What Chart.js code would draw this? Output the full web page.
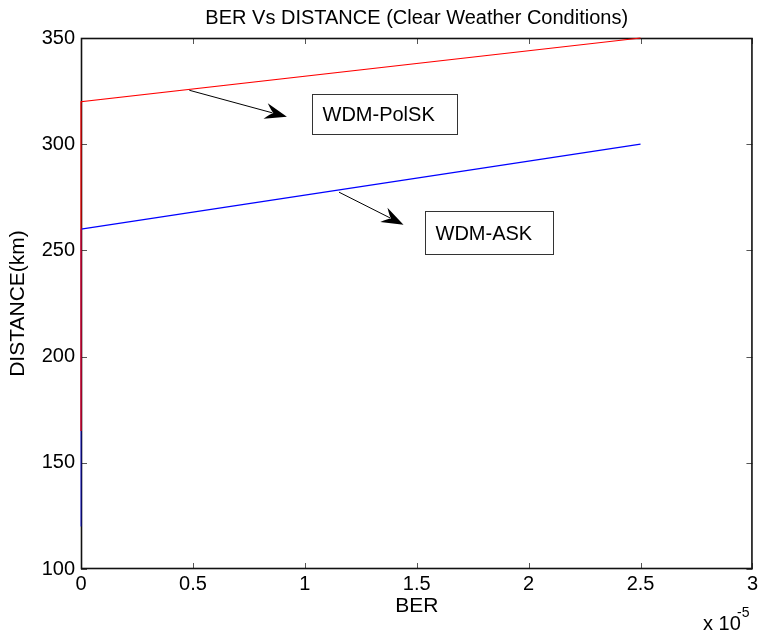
<!DOCTYPE html>
<html>
<head>
<meta charset="utf-8">
<title>BER Vs DISTANCE</title>
<script src="https://cdn.jsdelivr.net/npm/chart.js@4.4.0/dist/chart.umd.min.js"></script>
<style>
  html, body { margin: 0; padding: 0; background: #fff; }
  #wrap { width: 761px; height: 631px; }
</style>
</head>
<body>
<div id="wrap"><canvas id="myChart" width="761" height="631"></canvas></div>
<script>
// data
const polskBer = [0, 0, 2.5e-5];
const polskDist = [165, 320, 350];
const askBer = [0, 0, 2.5e-5];
const askDist = [120, 260, 300];

const xTicks = [0, 0.5, 1, 1.5, 2, 2.5, 3]; // x 10^-5
const yTicks = [100, 150, 200, 250, 300, 350];

// text arrows, in data units (ber, km)
const labelNames = ['WDM-PolSK', 'WDM-ASK'];
const arrowFrom = [[0.484e-5, 325.4], [1.153e-5, 277.4]];
const arrowTo = [[0.920e-5, 312.9], [1.441e-5, 262.1]];
const boxFrom = [[1.030e-5, 323.6], [1.537e-5, 268.6]];
const boxTo = [[1.682e-5, 304.6], [2.108e-5, 248.4]];

const FONT = "'Liberation Sans', Arial, Helvetica, sans-serif";

function toPoints(xs, ys) {
  return xs.map((x, i) => ({ x: x, y: ys[i] }));
}

function drawArrowHead(ctx, x1, y1, x2, y2) {
  const ang = Math.atan2(y2 - y1, x2 - x1);
  const len = 22, half = 8, notch = 14;
  ctx.save();
  ctx.translate(x2, y2);
  ctx.rotate(ang);
  ctx.beginPath();
  ctx.moveTo(0, 0);
  ctx.lineTo(-len, -half);
  ctx.quadraticCurveTo(-len * 0.75, -half * 0.2, -notch, 0);
  ctx.quadraticCurveTo(-len * 0.75, half * 0.2, -len, half);
  ctx.closePath();
  ctx.fillStyle = '#000';
  ctx.fill();
  ctx.restore();
}

const matlabLook = {
  id: 'matlabLook',
  beforeDatasetsDraw(chart) {
    const ctx = chart.ctx;
    const a = chart.chartArea;
    const xs = chart.scales.x, ys = chart.scales.y;
    ctx.save();
    // inward ticks on all four sides
    ctx.strokeStyle = '#555';
    ctx.lineWidth = 1;
    ctx.beginPath();
    xTicks.forEach(t => {
      const px = Math.round(xs.getPixelForValue(t * 1e-5)) + 0.5;
      ctx.moveTo(px, a.bottom); ctx.lineTo(px, a.bottom - 6);
      ctx.moveTo(px, a.top); ctx.lineTo(px, a.top + 6);
    });
    yTicks.forEach(t => {
      const py = Math.round(ys.getPixelForValue(t)) + 0.5;
      ctx.moveTo(a.left, py); ctx.lineTo(a.left + 6, py);
      ctx.moveTo(a.right, py); ctx.lineTo(a.right - 6, py);
    });
    ctx.stroke();

    // box
    ctx.strokeStyle = '#111';
    ctx.lineWidth = 1.6;
    ctx.strokeRect(a.left + 0.5, a.top + 0.5, a.right - a.left - 1, a.bottom - a.top - 1);
    ctx.restore();
  },
  afterDraw(chart) {
    const ctx = chart.ctx;
    const a = chart.chartArea;
    const xs = chart.scales.x, ys = chart.scales.y;
    ctx.save();

    // arrows + boxed labels
    labelNames.forEach((name, i) => {
      const x1 = xs.getPixelForValue(arrowFrom[i][0]), y1 = ys.getPixelForValue(arrowFrom[i][1]);
      const x2 = xs.getPixelForValue(arrowTo[i][0]), y2 = ys.getPixelForValue(arrowTo[i][1]);
      ctx.strokeStyle = '#000';
      ctx.lineWidth = 1;
      ctx.beginPath();
      ctx.moveTo(x1, y1);
      const ang = Math.atan2(y2 - y1, x2 - x1);
      ctx.lineTo(x2 - 15 * Math.cos(ang), y2 - 15 * Math.sin(ang));
      ctx.stroke();
      drawArrowHead(ctx, x1, y1, x2, y2);

      const bx1 = Math.round(xs.getPixelForValue(boxFrom[i][0])) + 0.5;
      const by1 = Math.round(ys.getPixelForValue(boxFrom[i][1])) + 0.5;
      const bx2 = Math.round(xs.getPixelForValue(boxTo[i][0])) + 0.5;
      const by2 = Math.round(ys.getPixelForValue(boxTo[i][1])) + 0.5;
      ctx.fillStyle = '#fff';
      ctx.fillRect(bx1, by1, bx2 - bx1, by2 - by1);
      ctx.strokeStyle = '#333';
      ctx.strokeRect(bx1, by1, bx2 - bx1, by2 - by1);
      ctx.fillStyle = '#000';
      ctx.font = '20px ' + FONT;
      ctx.textAlign = 'left';
      ctx.textBaseline = 'middle';
      ctx.fillText(name, bx1 + 10, (by1 + by2) / 2 + 1);
    });

    // title and axis titles
    const cx = (a.left + a.right) / 2;
    ctx.fillStyle = '#000';
    ctx.textAlign = 'center';
    ctx.textBaseline = 'middle';
    ctx.font = '20px ' + FONT;
    ctx.fillText('BER Vs DISTANCE (Clear Weather Conditions)', cx, 18);
    ctx.font = '21px ' + FONT;
    ctx.fillText('BER', cx, 606);
    ctx.save();
    ctx.translate(18, (a.top + a.bottom) / 2);
    ctx.rotate(-Math.PI / 2);
    ctx.fillText('DISTANCE(km)', 0, 0);
    ctx.restore();

    // exponent
    ctx.textAlign = 'left';
    ctx.textBaseline = 'alphabetic';
    ctx.font = '20px ' + FONT;
    ctx.fillText('x 10', 703, 630);
    ctx.font = '14px ' + FONT;
    ctx.fillText('-5', 737, 617);

    ctx.restore();
  }
};

// the vertical part at BER = 0 overlaps the other curve; let it show through
const onAxis = c => c.p0.parsed.x === 0 && c.p1.parsed.x === 0;

const myChartRef = document.getElementById('myChart').getContext('2d');
new Chart(myChartRef, {
  type: 'scatter',
  data: {
    datasets: [
      {
        label: 'WDM-PolSK',
        data: toPoints(polskBer, polskDist),
        showLine: true,
        borderColor: '#ff0000',
        borderWidth: 1.2,
        pointRadius: 0,
        fill: false,
        tension: 0,
        clip: 2
      },
      {
        label: 'WDM-ASK',
        data: toPoints(askBer, askDist),
        showLine: true,
        borderColor: '#0000ff',
        borderWidth: 1.2,
        segment: { borderColor: c => onAxis(c) ? 'rgba(0,0,255,0.6)' : undefined },
        pointRadius: 0,
        fill: false,
        tension: 0,
        clip: 2
      }
    ]
  },
  options: {
    responsive: false,
    animation: false,
    layout: { padding: { top: 38, right: 4, left: 0, bottom: 0 } },
    plugins: {
      legend: { display: false },
      title: { display: false },
      tooltip: { enabled: false }
    },
    scales: {
      x: {
        type: 'linear',
        min: 0,
        max: 3e-5,
        afterBuildTicks: scale => { scale.ticks = xTicks.map(v => ({ value: v * 1e-5 })); },
        afterFit: scale => { scale.height = 62; },
        grid: { display: false, drawTicks: false },
        border: { display: false },
        ticks: {
          color: '#000',
          padding: 3,
          maxRotation: 0,
          autoSkip: false,
          font: { family: FONT, size: 20 },
          callback: v => String(Math.round(v * 1e6) / 10)
        }
      },
      y: {
        type: 'linear',
        min: 100,
        max: 350,
        afterBuildTicks: scale => { scale.ticks = yTicks.map(v => ({ value: v })); },
        afterFit: scale => { scale.width = 81; },
        grid: { display: false, drawTicks: false },
        border: { display: false },
        ticks: {
          color: '#000',
          padding: 6,
          autoSkip: false,
          font: { family: FONT, size: 20 }
        }
      }
    }
  },
  plugins: [matlabLook]
});
</script>
</body>
</html>
